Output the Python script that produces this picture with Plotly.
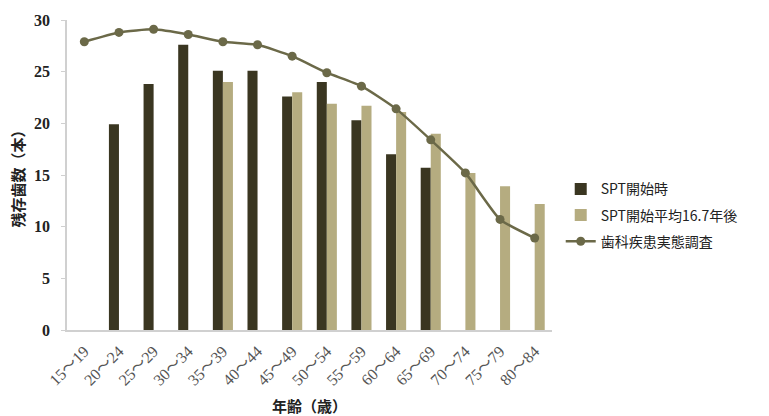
import plotly.graph_objects as go

# Age groups (years)
age_groups = ["15～19", "20～24", "25～29", "30～34", "35～39", "40～44", "45～49",
              "50～54", "55～59", "60～64", "65～69", "70～74", "75～79", "80～84"]

# Remaining teeth at the start of SPT
spt_start = [None, 19.9, 23.8, 27.6, 25.1, 25.1, 22.6, 24.0, 20.3, 17.0, 15.7,
             None, None, None]

# Remaining teeth on average 16.7 years after the start of SPT
spt_after = [None, None, None, None, 24.0, None, 23.0, 21.9, 21.7, 21.1, 19.0,
             15.2, 13.9, 12.2]

# National dental disease survey
survey = [27.9, 28.8, 29.1, 28.6, 27.9, 27.6, 26.5, 24.9, 23.6, 21.4, 18.4,
          15.2, 10.7, 8.9]

serif = "Liberation Serif, Noto Sans CJK JP, serif"
cjk = "Noto Sans CJK JP, sans-serif"

fig = go.Figure()
fig.add_trace(go.Bar(
    x=age_groups, y=spt_start, name="SPT開始時", legendgroup="a",
    marker=dict(color="#3a3621", line=dict(width=0)),
))
fig.add_trace(go.Bar(
    x=age_groups, y=spt_after, name="SPT開始平均16.7年後", legendgroup="b",
    marker=dict(color="#b5ac80", line=dict(width=0)),
))
fig.add_trace(go.Scatter(
    x=age_groups, y=survey, name="歯科疾患実態調査", legendgroup="c",
    mode="lines+markers",
    line=dict(color="#6b6948", width=2.5, shape="spline", smoothing=0.5),
    marker=dict(color="#6b6948", size=9, symbol="circle"),
))

fig.update_layout(
    width=769, height=416,
    margin=dict(l=67, r=217, t=20, b=86),
    paper_bgcolor="white", plot_bgcolor="white",
    barmode="group", bargap=0.42, bargroupgap=0,
    showlegend=True,
    legend=dict(
        x=1.018, xanchor="left", y=0.37, yanchor="middle",
        font=dict(family=cjk, size=14, color="#222"),
        traceorder="grouped", tracegroupgap=5,
        itemwidth=30,
        bgcolor="rgba(0,0,0,0)",
    ),
    xaxis=dict(
        type="category", range=[-0.5, 13.5], automargin=False,
        tickangle=-45,
        tickfont=dict(family=serif, size=16, color="#555"),
        ticklabelstandoff=4,
        showline=True, linecolor="#d0d0d0", linewidth=1.5,
        ticks="", showgrid=False,
        title=dict(text="年齢（歳）",
                   font=dict(family=cjk, size=15, color="#222", weight="bold"),
                   standoff=14),
    ),
    yaxis=dict(
        range=[0, 30], tickvals=[0, 5, 10, 15, 20, 25, 30], automargin=False,
        tickfont=dict(family=serif, size=16, color="#222", weight="bold"),
        showline=True, linecolor="#d0d0d0", linewidth=1.5,
        ticks="outside", tickcolor="#d0d0d0", ticklen=4,
        ticklabelstandoff=8,
        showgrid=False, zeroline=False,
        title=dict(text="残存歯数（本）",
                   font=dict(family=cjk, size=15, color="#222", weight="bold"),
                   standoff=6),
    ),
)

fig.write_html("out.html")
